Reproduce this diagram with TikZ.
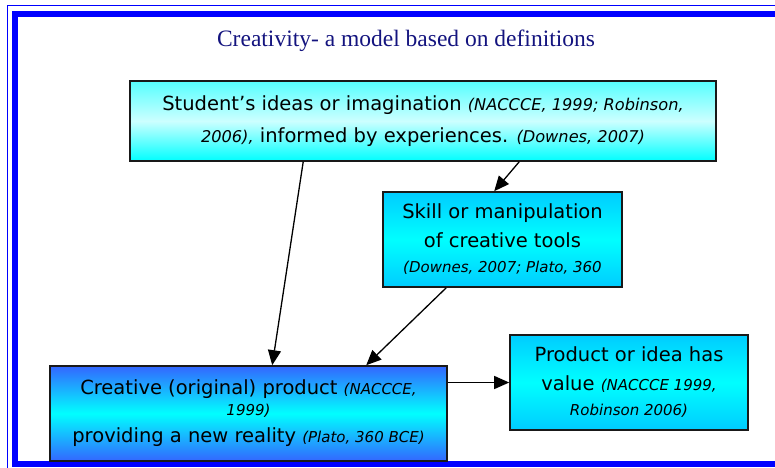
\documentclass[tikz,border=0pt]{standalone}
\usepackage{fontspec}
\usetikzlibrary{arrows.meta}
\newfontfamily\comic{DejaVu Sans}
\newfontfamily\titlefont{Liberation Serif}
\definecolor{navy}{HTML}{14147F}
\definecolor{frameblue}{HTML}{0000FF}
\definecolor{sky}{HTML}{00CCFF}
\definecolor{royal}{HTML}{3366FF}
\definecolor{palecyan}{HTML}{CCFFFF}
\definecolor{lightcyan}{HTML}{55FFFF}
\newcommand\cit[1]{{\fontsize{15}{17}\selectfont\itshape #1}}
\newcommand\citb[1]{{\fontsize{16.2}{18}\selectfont\itshape #1}}
\begin{document}
\begin{tikzpicture}[x=1pt,y=-1pt,
  box/.style={draw=black!90,line width=1.6pt,rectangle,inner sep=0pt,align=center,
    font=\comic\fontsize{19.5}{29}\selectfont},
  arr/.style={-{Triangle[length=15pt,width=13pt]},line width=1.3pt}]
\useasboundingbox (0,0) rectangle (775,467);
\fill[white] (0,0) rectangle (775,467);
\begin{scope}
\clip (0,0) rectangle (775,467);
\draw[frameblue,line width=1.5pt] (7.5,5.5) rectangle (830,530);
\draw[frameblue,line width=6pt] (15,14) rectangle (820,464);
\end{scope}
\node[font=\titlefont\fontsize{23.5}{28}\selectfont,text=navy] (title) at (406,41) {Creativity- a model based on definitions};
\node[box,minimum width=586pt,minimum height=80pt,top color=lightcyan,bottom color=cyan,middle color=palecyan] (ideas) at (423,121)
  {Student’s ideas or imagination \citb{(NACCCE, 1999; Robinson,}\\[3pt]\citb{2006),} informed by experiences. \citb{(Downes, 2007)}};
\node[box,minimum width=239pt,minimum height=95pt,top color=sky,bottom color=sky,middle color=cyan] (skill) at (502.5,239.5)
  {Skill or manipulation\\of creative tools\\[-4pt]\cit{(Downes, 2007; Plato, 360}};
\node[box,minimum width=397pt,minimum height=95pt,top color=royal,bottom color=royal,middle color=cyan] (creative) at (248.5,413.5)
  {Creative (original) product \cit{(NACCCE,}\\[-8pt]\cit{1999)}\\[-2pt]providing a new reality \cit{(Plato, 360 BCE)}};
\node[box,minimum width=238pt,minimum height=95pt,top color=sky,bottom color=sky,middle color=cyan] (product) at (629,382.5)
  {Product or idea has\\value \cit{(NACCCE 1999,}\\[-4pt]\cit{Robinson 2006)}};
\draw[arr] ([xshift=174pt]ideas.south west) -- ([xshift=223pt]creative.north west);
\draw[arr] ([xshift=390pt]ideas.south west) -- ([xshift=112pt]skill.north west);
\draw[arr] ([xshift=64pt]skill.south west) -- ([xshift=317pt]creative.north west);
\draw[arr] (creative.east |- product.west) -- (product.west);
\end{tikzpicture}
\end{document}
